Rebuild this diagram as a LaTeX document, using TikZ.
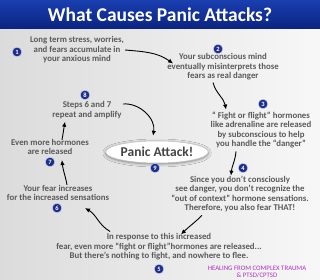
\documentclass[tikz,border=0pt]{standalone}
\usepackage{fontspec}
\setmainfont{Carlito}
\usepackage{tikz}
\usetikzlibrary{arrows.meta,calc,shapes.geometric,shadows.blur}
\definecolor{barblue}{HTML}{1A3FB0}
\definecolor{bardark}{HTML}{0A2380}
\definecolor{badgeblue}{HTML}{1C2F8F}
\definecolor{txtgray}{HTML}{5A5A5A}
\definecolor{panicgray}{HTML}{444444}
\definecolor{creditpink}{HTML}{B032C0}
\tikzset{
  steptext/.style={
    font=\fontsize{8.8}{9.5}\selectfont\bfseries,
    text=txtgray,
    align=center,
    inner sep=0pt
  },
  badge/.style={
    circle,
    fill=badgeblue,
    draw=white!80!badgeblue,
    line width=0.4pt,
    text=white,
    font=\fontsize{6.5}{6.5}\selectfont\bfseries,
    minimum size=9.5pt,
    inner sep=0pt
  },
  panicbox/.style={
    ellipse,
    fill=white,
    draw=black!25,
    line width=0.5pt,
    blur shadow={shadow blur steps=6, shadow xshift=0pt, shadow yshift=-1pt, shadow opacity=45, shadow blur radius=3pt},
    minimum width=86pt,
    minimum height=22pt,
    inner sep=0pt,
    font=\fontsize{13.5}{14}\selectfont\bfseries,
    text=panicgray
  },
  flow/.style={line width=0.9pt, draw=black, -{Latex[length=5pt,width=4.5pt]}},
  title/.style={font=\fontsize{19.5}{20}\selectfont\bfseries, text=white},
  credit/.style={font=\fontsize{6.8}{7.6}\selectfont, text=creditpink, align=center, inner sep=0pt}
}

\begin{document}
\begin{tikzpicture}[x=1pt,y=-1pt]
\useasboundingbox (0,0) rectangle (320,280);
\shade[left color=black!14, right color=black!3] (0,0) rectangle (320,280);
\shade[top color=barblue, bottom color=bardark] (0,0) rectangle (320,29);
\node[title] (head) at (160,15) {What Causes Panic Attacks?};

% steps round the cycle
\node[steptext] (t1) at (77,50) {Long term stress, worries,\\and fears accumulate in\\your anxious mind};
\node[steptext] (t2) at (223,67) {Your subconscious mind\\eventually misinterprets those\\fears as real danger};
\node[steptext] (t3) at (261,130) {`` Fight or flight'' hormones\\like adrenaline are released\\by subconscious to help\\you handle the ``danger''};
\node[steptext] (t4) at (240,194) {Since you don't consciously\\see danger, you don't recognize the\\``out of context'' hormone sensations.\\Therefore, you also fear THAT!};
\node[steptext] (t5) at (159,247) {In response to this increased\\fear, even more ``fight or flight''hormones are released...\\But there's nothing to fight, and nowhere to flee.};
\node[steptext] (t6) at (58,193) {Your fear increases\\for the increased sensations};
\node[steptext] (t7) at (50,147) {Even more hormones\\are released};
\node[steptext] (t8) at (87,110) {Steps 6 and 7\\repeat and amplify};
\node[panicbox] (panic) at (157,152) {Panic Attack!};

\node[badge] (b1) at (17,52) {1};
\node[badge] (b2) at (218,49) {2};
\node[badge] (b3) at (263,104) {3};
\node[badge] (b4) at (243,168) {4};
\node[badge] (b5) at (159,269) {5};
\node[badge] (b6) at (57,208) {6};
\node[badge] (b7) at (50,162) {7};
\node[badge] (b8) at (85,95) {8};
\node[badge] (b9) at (155,168) {9};

\node[credit] (src) at (257,272) {HEALING FROM COMPLEX TRAUMA\\\& PTSD/CPTSD};

\draw[flow] ($(t1.east)+(1,0)$) to[out=-5,in=145] ($(t2.north west)+(6,10)$);
\draw[flow] ($(t2.south)+(-10,2)$) to[out=-75,in=100] ($(t3.north)+(-35,-2)$);
\draw[flow] ($(t3.south)+(-25,3)$) to[out=-95,in=85] ($(t4.north)+(-9,0)$);
\draw[flow] ($(t4.south)+(-38,3)$) to[out=-135,in=45] ($(t5.north)+(22,1)$);
\draw[flow] ($(t5.north)+(-49,-2)$) to[out=150,in=-30] ($(t6.south)+(27,7)$);
\draw[flow] ($(t6.north)+(9,0)$) to[out=100,in=-85] ($(t7.south)+(12,5)$);
\draw[flow] ($(t7.north)+(12,1)$) to[out=80,in=-100] ($(t8.south)+(-22,3)$);
\draw[flow] ($(t8.east)+(1,-6)$) to[out=5,in=80] ($(panic.north)+(-4,-5)$);

\end{tikzpicture}
\end{document}
